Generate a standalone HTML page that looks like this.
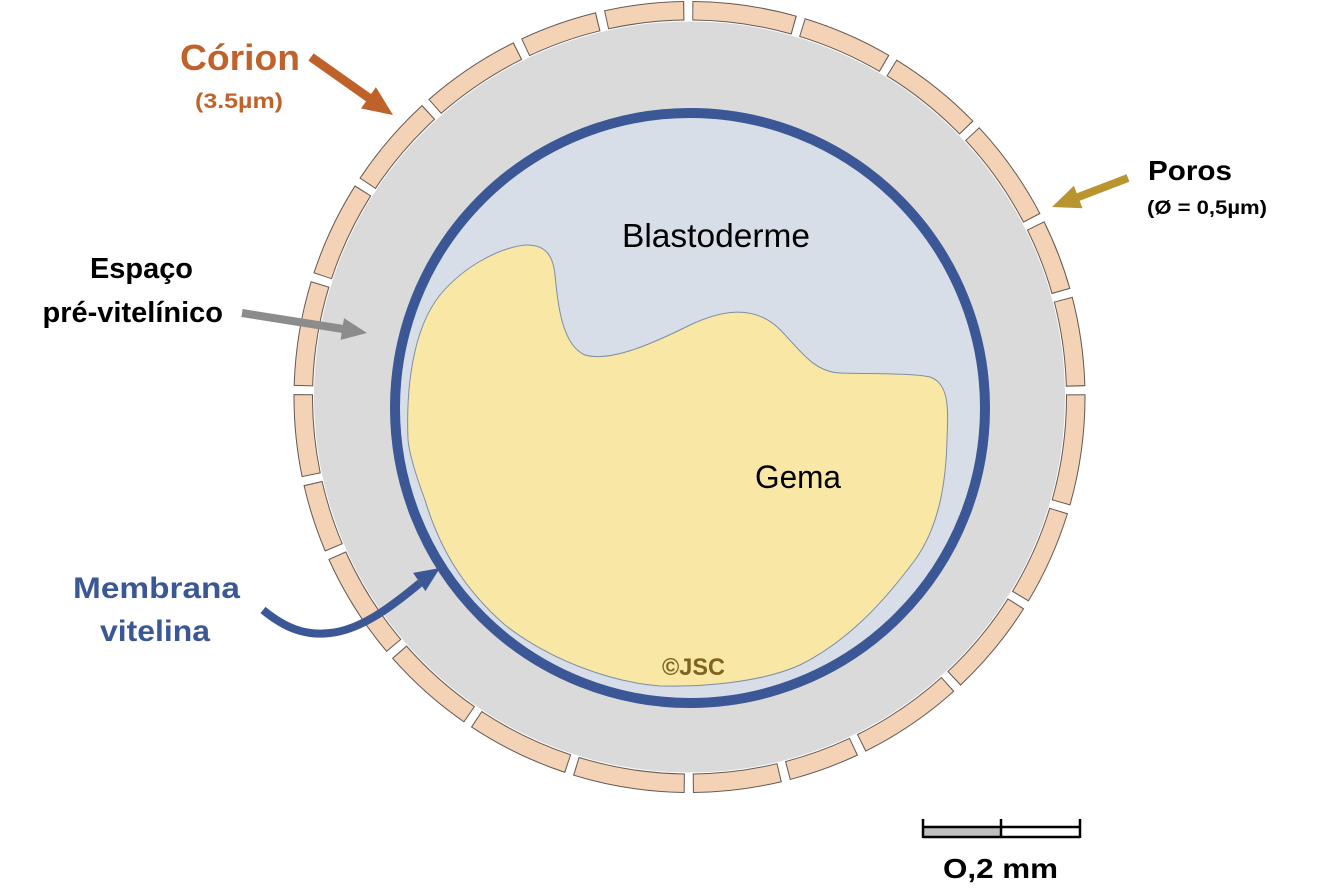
<!DOCTYPE html>
<html>
<head>
<meta charset="utf-8">
<style>
html,body{margin:0;padding:0;background:#ffffff;}
svg{display:block;}
</style>
</head>
<body>
<svg width="1333" height="893" viewBox="0 0 1333 893" xmlns="http://www.w3.org/2000/svg" font-family="'Liberation Sans', sans-serif">
  <!-- grey perivitelline disc -->
  <circle cx="689.5" cy="397" r="375.5" fill="#DADADA"/>

  <!-- chorion segments: border -->
  <g transform="rotate(-0.4 689.5 397)">
    <circle cx="689.5" cy="397" r="386.25" fill="none" stroke="#625852" stroke-width="19.5"
      stroke-dasharray="109.88 8.09 94.38 8.09 97.75 8.09 105.16 8.09 70.78 8.09 87.64 8.09 110.56 8.09 102.47 8.09 94.38 8.09 107.19 8.09 68.09 8.09 81.57 8.09 103.82 8.09 95.05 8.09 94.38 8.09 100.45 8.09 77.52 8.09 78.87 8.09 103.14 8.09 90.33 8.09 96.40 8.09 103.82 8.09 70.78 8.09 88.31 8.09"/>
  </g>
  <!-- chorion segments: fill -->
  <g transform="rotate(-0.25 689.5 397)">
    <circle cx="689.5" cy="397" r="386.25" fill="none" stroke="#F4D2B5" stroke-width="17.5"
      stroke-dasharray="107.86 10.11 92.36 10.11 95.73 10.11 103.14 10.11 68.76 10.11 85.61 10.11 108.53 10.11 100.45 10.11 92.36 10.11 105.16 10.11 66.06 10.11 79.55 10.11 101.79 10.11 93.03 10.11 92.36 10.11 98.42 10.11 75.50 10.11 76.85 10.11 101.12 10.11 88.31 10.11 94.38 10.11 101.79 10.11 68.76 10.11 86.29 10.11"/>
  </g>

  <!-- vitelline membrane -->
  <circle cx="690" cy="408" r="295" fill="#D7DEE8" stroke="#3B5796" stroke-width="10"/>

  <!-- yolk -->
  <path d="M408,440 C406,390 412,330 440,295 C465,265 500,248 525,245 C545,244 553,255 555,275 C558,305 562,345 585,355 C610,362 650,345 690,325 C720,311 750,305 775,325 C795,342 810,372 840,373 C875,374 910,373 930,377 C950,384 948,410 947,440 C946,480 940,525 915,560 C885,600 850,640 800,665 C760,683 700,687 660,686 C610,682 550,660 505,625 C465,590 440,550 425,500 C412,465 409,450 408,440 Z"
    fill="#F9E7A5" stroke="#7E8DA6" stroke-width="1"/>

  <!-- inner labels -->
  <text x="622" y="247" font-size="33" fill="#000" textLength="188" lengthAdjust="spacingAndGlyphs">Blastoderme</text>
  <text x="755" y="488" font-size="32" fill="#000" textLength="86" lengthAdjust="spacingAndGlyphs">Gema</text>
  <text x="662" y="675" font-size="24" font-weight="bold" fill="#7D6421" textLength="63" lengthAdjust="spacingAndGlyphs">©JSC</text>

  <!-- Córion -->
  <text x="180" y="70" font-size="36" font-weight="bold" fill="#C0622B" textLength="120" lengthAdjust="spacingAndGlyphs">Córion</text>
  <text x="195" y="108" font-size="21" font-weight="bold" fill="#C0622B" textLength="88" lengthAdjust="spacingAndGlyphs">(3.5µm)</text>
  <line x1="311" y1="57" x2="369" y2="98" stroke="#BF622A" stroke-width="9"/>
  <polygon points="393,115 361,108.5 375.9,87.1" fill="#BF622A"/>

  <!-- Poros -->
  <text x="1148" y="180" font-size="28" font-weight="bold" fill="#000" textLength="84" lengthAdjust="spacingAndGlyphs">Poros</text>
  <text x="1147" y="214" font-size="19" font-weight="bold" fill="#000" textLength="120" lengthAdjust="spacingAndGlyphs">(Ø = 0,5µm)</text>
  <line x1="1128" y1="178" x2="1077" y2="197.5" stroke="#B9952F" stroke-width="8"/>
  <polygon points="1052,207 1073.9,185.8 1082.5,208.2" fill="#B9952F"/>

  <!-- Espaço pré-vitelínico -->
  <text x="90" y="278" font-size="29" font-weight="bold" fill="#000" textLength="103" lengthAdjust="spacingAndGlyphs">Espaço</text>
  <text x="223" y="322" font-size="29" font-weight="bold" fill="#000" text-anchor="end">pré-vitelínico</text>
  <line x1="242" y1="313" x2="343" y2="329" stroke="#8C8C8C" stroke-width="8"/>
  <polygon points="367,333 340.6,339.9 344,318.1" fill="#8C8C8C"/>

  <!-- Membrana vitelina -->
  <text x="73" y="598" font-size="30" font-weight="bold" fill="#3B5796" textLength="167" lengthAdjust="spacingAndGlyphs">Membrana</text>
  <text x="100" y="641" font-size="30" font-weight="bold" fill="#3B5796" textLength="110" lengthAdjust="spacingAndGlyphs">vitelina</text>
  <path d="M263,610 C285,628 305,636 330,633 C360,630 390,608 420,583" fill="none" stroke="#3B5796" stroke-width="8"/>
  <polygon points="440,568 425.4,591.1 413.1,572.9" fill="#3B5796"/>

  <!-- scale bar -->
  <rect x="923" y="827" width="78" height="10" fill="#BFBFBF"/>
  <rect x="1001" y="827" width="79" height="10" fill="#FFFFFF"/>
  <g stroke="#000" stroke-width="2.5" fill="none">
    <line x1="923" y1="827" x2="1080" y2="827"/>
    <line x1="923" y1="837" x2="1080" y2="837"/>
    <line x1="923" y1="819" x2="923" y2="838"/>
    <line x1="1001" y1="819" x2="1001" y2="838"/>
    <line x1="1080" y1="819" x2="1080" y2="838"/>
  </g>
  <text x="943" y="878" font-size="28" font-weight="bold" fill="#000" textLength="115" lengthAdjust="spacingAndGlyphs">O,2 mm</text>
</svg>
</body>
</html>
